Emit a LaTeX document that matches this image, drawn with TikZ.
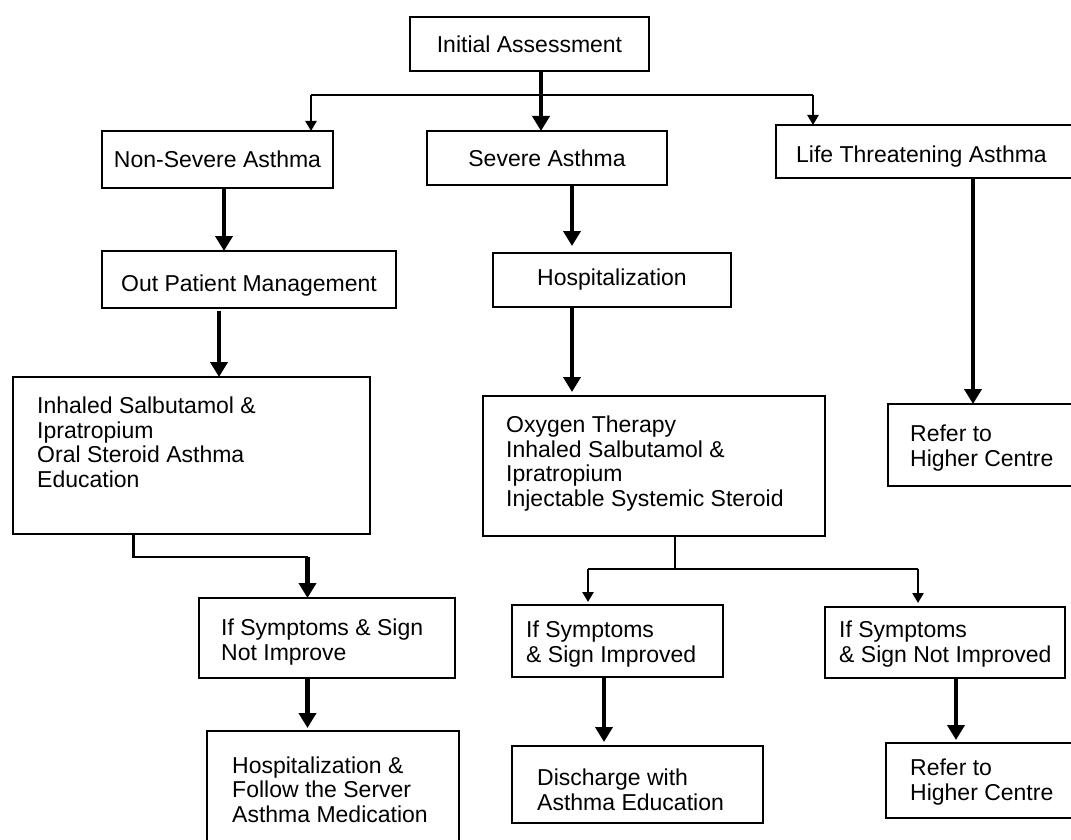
\documentclass[tikz,border=0pt]{standalone}
\usepackage{fontspec}
\setmainfont{Liberation Sans}
\usetikzlibrary{arrows.meta}
\begin{document}
\begin{tikzpicture}[x=1pt,y=-1pt,
  box/.style={draw, line width=2.5pt, inner sep=0pt, outer sep=0pt,
    font=\fontsize{23}{24.5}\selectfont},
  % multi-line texts are anchored at the baseline of their last line
  txt/.style={inner sep=0pt, align=left, anchor=base west,
    font=\fontsize{23}{24.5}\selectfont},
  thk/.style={line width=4.5pt, -{Triangle[width=17pt,length=15pt]}},
  thn/.style={line width=2.6pt},
  thnarr/.style={line width=2.6pt, -{Triangle[width=11pt,length=10pt]}},
]
\clip (0,0) rectangle (1071,840);
\fill[white] (0,0) rectangle (1071,840);

% ---- boxes ----
\node[box, minimum width=239pt, minimum height=54pt]  (init)  at (529.5,44)  {Initial Assessment};
\node[box, minimum width=231pt, minimum height=57pt]  (ns)    at (217.5,159.5) {Non-Severe Asthma};
\node[box, minimum width=240pt, minimum height=54pt]  (sev)   at (547,158)   {Severe Asthma};
\node[box, minimum width=304pt, minimum height=53pt]  (life)  at (928,151.5) {};
\node[box, minimum width=294pt, minimum height=57pt]  (op)    at (249,279.5) {\raisebox{-6pt}[\height][\depth]{Out Patient Management}};
\node[box, minimum width=238pt, minimum height=54pt]  (hosp)  at (612,280)   {Hospitalization};
\node[box, minimum width=357pt, minimum height=157pt] (inh)   at (191.5,455.5) {};
\node[box, minimum width=342pt, minimum height=140pt] (oxy)   at (654,466)   {};
\node[box, minimum width=192pt, minimum height=82pt]  (ref1)  at (984,445)   {};
\node[box, minimum width=256pt, minimum height=80pt]  (ifnot) at (327,638)   {};
\node[box, minimum width=211pt, minimum height=72pt]  (imp)   at (617.5,641) {};
\node[box, minimum width=240pt, minimum height=71pt]  (notimp) at (945,642.5) {};
\node[box, minimum width=252pt, minimum height=129pt] (hosp2) at (333,795.5) {};
\node[box, minimum width=251pt, minimum height=77pt]  (dis)   at (637.5,784.5) {};
\node[box, minimum width=194pt, minimum height=75pt]  (ref2)  at (983,780.5) {};

% ---- box texts ----
\node[txt] (life-t)  at (796,162) {Life Threatening Asthma};
\node[txt] (inh-t)   at (37,487)  {Inhaled Salbutamol \&\\Ipratropium\\Oral Steroid Asthma\\Education};
\node[txt] (oxy-t)   at (506,506) {Oxygen Therapy\\Inhaled Salbutamol \&\\Ipratropium\\Injectable Systemic Steroid};
\node[txt] (ref1-t)  at (910,466) {Refer to\\Higher Centre};
\node[txt] (ifnot-t) at (221,660) {If Symptoms \& Sign\\Not Improve};
\node[txt] (imp-t)   at (526,662) {If Symptoms\\\& Sign Improved};
\node[txt] (notimp-t) at (839,662) {If Symptoms\\\& Sign Not Improved};
\node[txt] (hosp2-t) at (232,822) {Hospitalization \&\\Follow the Server\\Asthma Medication};
\node[txt] (dis-t)   at (537,810) {Discharge with\\Asthma Education};
\node[txt] (ref2-t)  at (910,800) {Refer to\\Higher Centre};

% ---- connector columns and rows ----
\coordinate (cA) at (541,95);
\coordinate (cB) at (311,95);
\coordinate (cC) at (813,95);
\coordinate (cD) at (224,0);
\coordinate (cE) at (219,0);
\coordinate (cF) at (572,0);
\coordinate (cG) at (973,0);
\coordinate (cH) at (133.5,557);
\coordinate (cI) at (307.5,557);
\coordinate (cJ) at (675,569);
\coordinate (cK) at (588,569);
\coordinate (cL) at (918,569);
\coordinate (cM) at (604,0);
\coordinate (cN) at (956,0);

% ---- connectors ----
\draw[thk] (cA |- init.south) -- (cA |- sev.north);
\draw[thn] (cB) -- (cC);
\draw[thnarr] (cB) -- (cB |- ns.north);
\draw[thnarr] (cC) -- (cC |- life.north);

\draw[thk] (cD |- ns.south) -- (cD |- op.north);
\draw[thk, shorten <=3pt] (cE |- op.south) -- (cE |- inh.north);
\draw[thk, shorten >=7pt] (cF |- sev.south) -- (cF |- hosp.north);
\draw[thk, shorten >=4pt] (cF |- hosp.south) -- (cF |- oxy.north);
\draw[thk] (cG |- life.south) -- (cG |- ref1.north);

\draw[thn] (cH |- inh.south) -- (cH) -- (cI);
\draw[thk] (cI) -- (cI |- ifnot.north);
\draw[thk, shorten >=3pt] (cI |- ifnot.south) -- (cI |- hosp2.north);

\draw[thn] (cJ |- oxy.south) -- (cJ);
\draw[thn] (cK) -- (cL);
\draw[thnarr, shorten >=3pt] (cK) -- (cK |- imp.north);
\draw[thnarr, shorten >=4pt] (cL) -- (cL |- notimp.north);
\draw[thk, shorten >=4pt] (cM |- imp.south) -- (cM |- dis.north);
\draw[thk, shorten >=3pt] (cN |- notimp.south) -- (cN |- ref2.north);
\end{tikzpicture}
\end{document}
